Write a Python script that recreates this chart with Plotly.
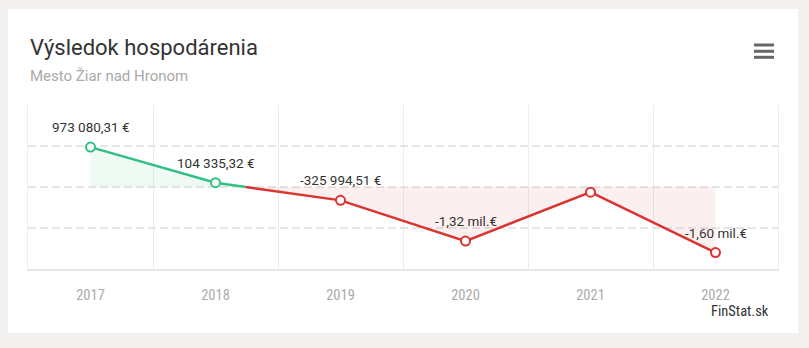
import plotly.graph_objects as go

# ---- data ----
years = ["2017", "2018", "2019", "2020", "2021", "2022"]
values = [973080.31, 104335.32, -325994.51, -1320000.0, -125000.0, -1600000.0]
value_labels = ["973 080,31 €", "104 335,32 €", "-325 994,51 €", "-1,32 mil.€", "", "-1,60 mil.€"]

title_text = "Výsledok hospodárenia"
subtitle_text = "Mesto Žiar nad Hronom"
credits_text = "FinStat.sk"

GREEN = "#31c084"
RED = "#da3330"
GREEN_FILL = "rgba(49,192,132,0.08)"
RED_FILL = "rgba(218,51,48,0.08)"

xs = list(range(len(years)))

# split series into positive / negative segments at zero crossings
segments = []  # list of (sign, xlist, ylist)
cur_sign = values[0] >= 0
cur_x, cur_y = [xs[0]], [values[0]]
for i in range(1, len(values)):
    s = values[i] >= 0
    if s != cur_sign:
        t = values[i - 1] / (values[i - 1] - values[i])
        cx = xs[i - 1] + t * (xs[i] - xs[i - 1])
        cur_x.append(cx); cur_y.append(0.0)
        segments.append((cur_sign, cur_x, cur_y))
        cur_x, cur_y = [cx], [0.0]
        cur_sign = s
    cur_x.append(xs[i]); cur_y.append(values[i])
segments.append((cur_sign, cur_x, cur_y))

fig = go.Figure()
for sign, sx, sy in segments:
    fig.add_trace(go.Scatter(
        x=sx, y=sy, mode="lines", fill="tozeroy",
        fillcolor=GREEN_FILL if sign else RED_FILL,
        line=dict(color=GREEN if sign else RED, width=2.5),
        hoverinfo="skip", showlegend=False,
    ))

marker_colors = [GREEN if v >= 0 else RED for v in values]
fig.add_trace(go.Scatter(
    x=xs, y=values, mode="markers",
    marker=dict(size=9, color="white", line=dict(color=marker_colors, width=2)),
    showlegend=False,
))

for x, v, lab in zip(xs, values, value_labels):
    if lab:
        fig.add_annotation(x=x, y=v, text=lab, showarrow=False, yshift=20,
                           font=dict(family="Roboto, sans-serif", size=13.5, color="#333333"))

# layout geometry (plot area: x 28..778, y 105..269)
L, R, T, B = 28, 31, 105, 79
W, H = 809, 348
pw, ph = W - L - R, H - T - B

def px(xp):
    return (xp - L) / pw

def py(yp):
    return (H - B - yp) / ph

shapes = [
    dict(type="rect", xref="paper", yref="paper", x0=px(8), x1=px(798), y0=py(333), y1=py(9),
         fillcolor="white", line=dict(width=0), layer="below"),
]
for yb in (45, 51.3, 57.3):
    shapes.append(dict(type="line", xref="paper", yref="paper", x0=px(754), x1=px(774),
                       y0=py(yb), y1=py(yb), line=dict(color="#666666", width=3)))

annotations = [
    dict(xref="paper", yref="paper", x=px(28), y=py(48), xanchor="left", yanchor="middle",
         text=title_text, showarrow=False, font=dict(family="Roboto, sans-serif", size=22, color="#333333")),
    dict(xref="paper", yref="paper", x=px(28), y=py(76), xanchor="left", yanchor="middle",
         text=subtitle_text, showarrow=False, font=dict(family="Roboto, sans-serif", size=15, color="#aaaaaa")),
    dict(xref="paper", yref="paper", x=px(771), y=py(311), xanchor="right", yanchor="middle",
         text=credits_text, showarrow=False,
         font=dict(family="Roboto Condensed, Liberation Sans Narrow, Roboto, sans-serif", size=14.5, color="#333333")),
]

fig.update_layout(
    width=W, height=H,
    margin=dict(l=L, r=R, t=T, b=B, pad=0),
    paper_bgcolor="#f2f1ef",
    plot_bgcolor="rgba(0,0,0,0)",
    shapes=shapes,
    annotations=list(fig.layout.annotations) + annotations,
    showlegend=False,
    hovermode=False,
)
fig.update_xaxes(
    range=[-0.5, len(years) - 0.5],
    tickmode="array", tickvals=xs, ticktext=years,
    showgrid=False, zeroline=False,
    showline=True, linecolor="#e6e6e6", linewidth=2,
    ticks="", ticklabelstandoff=12,
    tickfont=dict(family="Roboto Condensed, Liberation Sans Narrow, Roboto, sans-serif", size=14.5, color="#aaaaaa"),
    minor=dict(tickmode="array", tickvals=[i - 0.5 for i in range(1, len(years))],
               showgrid=True, gridcolor="#e8eded", gridwidth=1, ticks=""),
)
fig.update_yaxes(
    range=[-2e6, 2e6], tickmode="linear", tick0=0, dtick=1e6,
    showticklabels=False, zeroline=False,
    showgrid=True, gridcolor="#e6e6e6", gridwidth=1.5, griddash="8px,4px",
    showline=True, mirror=True, linecolor="#e8eded", linewidth=1,
)

fig.write_html("out.html")
